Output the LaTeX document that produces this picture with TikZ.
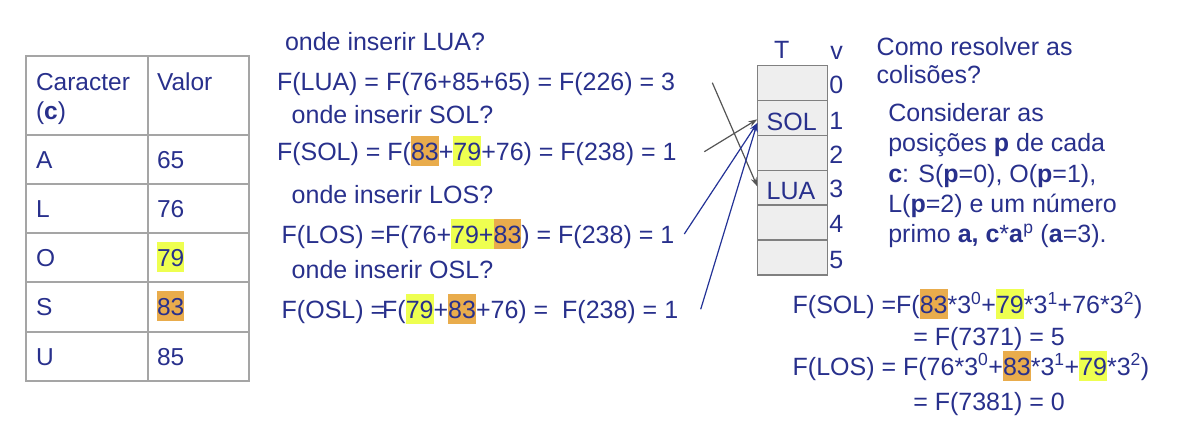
\documentclass[tikz,border=0pt]{standalone}
\usepackage{fontspec}
\setmainfont{Liberation Sans}
\usetikzlibrary{arrows.meta}
\definecolor{txt}{RGB}{40,48,140}
\definecolor{hly}{RGB}{238,255,80}
\definecolor{hlo}{RGB}{233,172,76}
\definecolor{gridc}{RGB}{165,165,165}
\definecolor{cellfill}{RGB}{238,238,238}
\definecolor{celldraw}{RGB}{128,128,128}
\definecolor{garrow}{RGB}{85,85,85}
\definecolor{barrow}{RGB}{35,50,150}
\newcommand\hly[1]{{\setlength{\fboxsep}{0pt}\colorbox{hly}{\rule[-6pt]{0pt}{30pt}#1}}}
\newcommand\hlo[1]{{\setlength{\fboxsep}{0pt}\colorbox{hlo}{\rule[-6pt]{0pt}{30pt}#1}}}
\tikzset{
  txtnode/.style={anchor=base west, inner sep=0pt, outer sep=0pt, text=txt, font=\fontsize{25}{30}\selectfont},
  tabnode/.style={txtnode, font=\fontsize{24.5}{30}\selectfont},
  cell/.style={draw=celldraw, fill=cellfill, line width=1.5pt, minimum width=70.4pt, minimum height=34.9pt, inner sep=0pt, outer sep=0pt},
  garr/.style={draw=garrow, line width=1.2pt, -{Stealth[length=9pt,width=6pt]}},
  barr/.style={draw=barrow, line width=1.2pt, -{Stealth[length=9pt,width=6pt]}},
  gridline/.style={draw=gridc, line width=2pt}
}
\begin{document}
\begin{tikzpicture}[x=1pt,y=-1pt]
\useasboundingbox (0,0) rectangle (1181,445);
% left table
\draw[gridline] (26,55.7) rectangle (249.3,380.7);
\draw[gridline] (148.3,55.7) -- (148.3,380.7);
\foreach \yy in {135,184.3,233.3,282.3,331.7} \draw[gridline] (26,\yy) -- (249.3,\yy);
\node[tabnode] (hcar) at (36,90) {Caracter};
\node[tabnode] (hc) at (36,119) {(\textbf{c})};
\node[tabnode] (hval) at (157,90) {Valor};
\node[tabnode] (ka) at (36,168) {A};
\node[tabnode] (va) at (157,168) {65};
\node[tabnode] (kl) at (36,217) {L};
\node[tabnode] (vl) at (157,217) {76};
\node[tabnode] (ko) at (36,266) {O};
\node[tabnode] (vo) at (157,266) {\hly{79}};
\node[tabnode] (ks) at (36,315) {S};
\node[tabnode] (vs) at (157,315) {\hlo{83}};
\node[tabnode] (ku) at (36,365) {U};
\node[tabnode] (vu) at (157,365) {85};
% middle text
\node[txtnode] (q1) at (285,50) {onde inserir LUA?};
\node[txtnode] (f1) at (277,90.7) {F(LUA) = F(76+85+65) = F(226) = 3};
\node[txtnode] (q2) at (291.7,123) {onde inserir SOL?};
\node[txtnode] (f2) at (277,160) {F(SOL) = F(\hlo{83}+\hly{79}+76) = F(238) = 1};
\node[txtnode] (q3) at (291.7,203) {onde inserir LOS?};
\node[txtnode] (f3) at (281.7,243) {F(LOS) =F(76+\hly{79+}\hlo{83}) = F(238) = 1};
\node[txtnode] (q4) at (291.7,278) {onde inserir OSL?};
\node[txtnode] (f4) at (281.7,318) {F(OSL) =\kern-3pt F(\hly{79}+\hlo{83}+76) =\ \ F(238) = 1};
% hash table
\foreach \i in {0,...,5} {
  \node[cell] (c\i) at (792.5,{83.14+34.88*\i}) {};
}
\node[txtnode, anchor=base] (tT) at (781.7,58.5) {T};
\node[txtnode, anchor=base] (tv) at (836.7,59) {v};
\node[txtnode] (n0) at (829.3,93.6) {0};
\node[txtnode] (n1) at (829.3,129) {1};
\node[txtnode] (n2) at (829.3,163.2) {2};
\node[txtnode] (n3) at (829.3,197.5) {3};
\node[txtnode] (n4) at (829.3,232.5) {4};
\node[txtnode] (n5) at (829.3,268) {5};
\node[txtnode] (sol) at (766.7,130) {SOL};
\node[txtnode] (lua) at (766.7,199.3) {LUA};
% arrows
\coordinate (a1) at (704.3,151.7);
\coordinate (a2) at (712.3,82.7);
\coordinate (a3) at (684.3,234);
\coordinate (a4) at (700.7,309.3);
\draw[garr] (a1) -- ([yshift=-1.3pt]c1.west);
\draw[garr] (a2) -- ([yshift=1.3pt]c3.west);
\draw[barr] (a3) -- ([yshift=-5pt]c1.west);
\draw[barr] (a4) -- ([yshift=-5pt]c1.west);
% right text
\node[txtnode] (r1) at (876.7,55) {Como resolver as};
\node[txtnode] (r2) at (876.7,83.3) {colisões?};
\node[txtnode] (r3) at (888.3,121.7) {Considerar as};
\node[txtnode] (r4) at (888.3,151.7) {posições \textbf{p} de cada};
\node[txtnode] (r5) at (888.3,182.7) {\textbf{c}: S(\textbf{p}=0), O(\textbf{p}=1),};
\node[txtnode] (r6) at (888.3,212.7) {L(\textbf{p}=2) e um número};
\node[txtnode] (r7) at (888.3,242.7) {primo \textbf{a,} \textbf{c}*\textbf{a}\textsuperscript{p} (\textbf{a}=3).};
% bottom right
\node[txtnode] (e1) at (792.7,313.3) {F(SOL) =F(\hlo{83}*3\textsuperscript{0}+\hly{79}*3\textsuperscript{1}+76*3\textsuperscript{2})};
\node[txtnode] (e2) at (913.3,345) {= F(7371) = 5};
\node[txtnode] (e3) at (792.7,375) {F(LOS) = F(76*3\textsuperscript{0}+\hlo{83}*3\textsuperscript{1}+\hly{79}*3\textsuperscript{2})};
\node[txtnode] (e4) at (913.3,410) {= F(7381) = 0};
\end{tikzpicture}
\end{document}
